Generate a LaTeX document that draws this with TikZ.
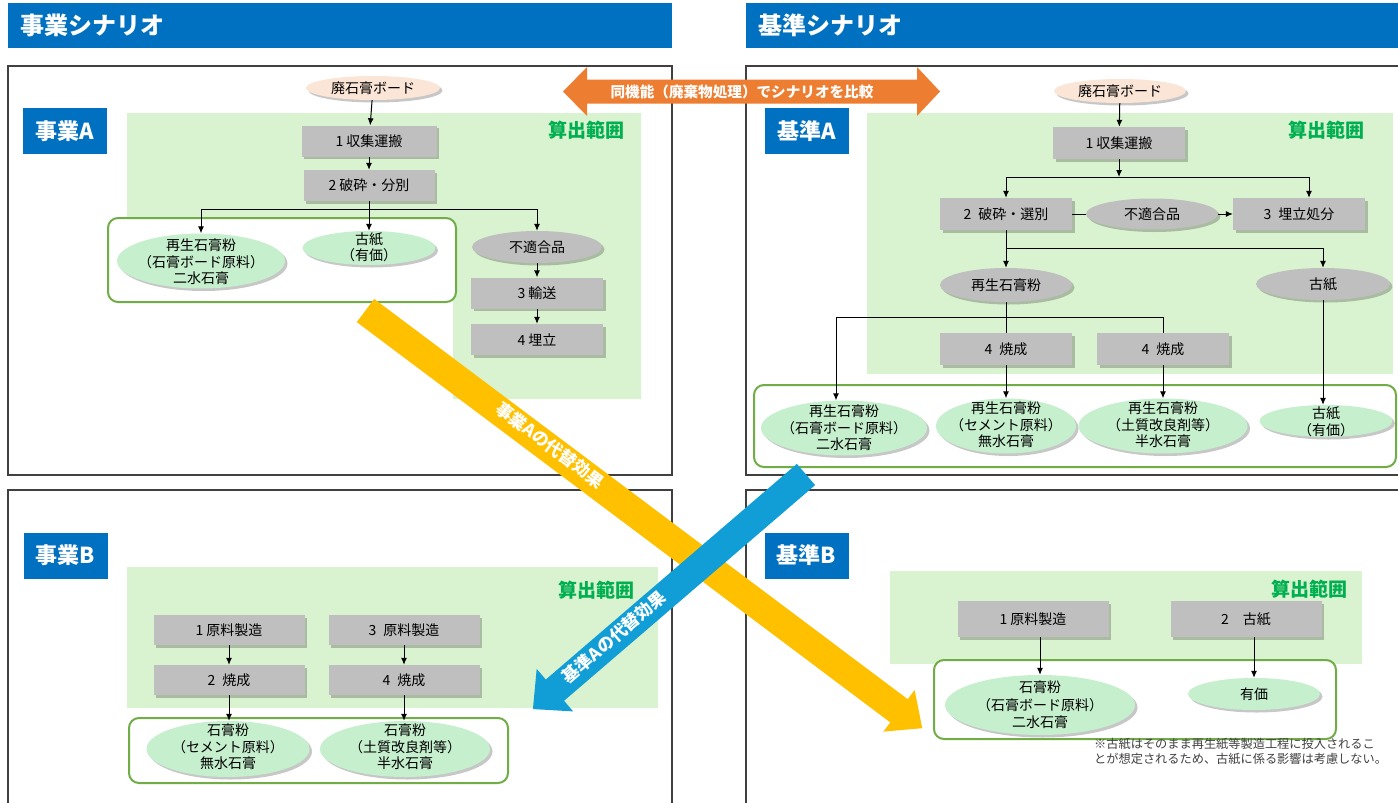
\documentclass[tikz,border=0pt]{standalone}
\usepackage{fontspec}
\setmainfont{Noto Sans CJK JP}
\usepackage{tikz}
\usetikzlibrary{arrows.meta,shapes.geometric,shadows}
\definecolor{head_blue}{RGB}{0,112,192}
\definecolor{area_green}{RGB}{217,242,208}
\definecolor{text_green}{RGB}{0,176,80}
\definecolor{box_gray}{RGB}{191,191,191}
\definecolor{edge_gray}{RGB}{64,64,64}
\definecolor{node_peach}{RGB}{251,229,214}
\definecolor{node_green}{RGB}{198,239,206}
\definecolor{edge_green}{RGB}{112,173,71}
\definecolor{arrow_orange}{RGB}{237,125,49}
\definecolor{arrow_yellow}{RGB}{255,192,0}
\definecolor{arrow_blue}{RGB}{17,158,214}

\begin{document}
\begin{tikzpicture}[x=1pt,y=-1pt,>={Latex[length=7pt,width=6pt]}]
    \tikzstyle{panel}=[draw=edge_gray, line width=1.2pt, fill=white]
    \tikzstyle{title}=[fill=head_blue, text=white, font=\fontsize{24}{26}\selectfont\bfseries, minimum height=45, inner xsep=12, align=left]
    \tikzstyle{tag}=[fill=head_blue, text=white, font=\fontsize{22}{24}\selectfont\bfseries, minimum width=84, minimum height=46, inner sep=0]
    \tikzstyle{area}=[fill=area_green]
    \tikzstyle{calc}=[text=text_green, font=\fontsize{19}{21}\selectfont\bfseries, inner sep=0]
    \tikzstyle{outbox}=[draw=edge_green, line width=2pt, rounded corners=10pt, fill=white]
    \tikzstyle{shade}=[drop shadow={shadow xshift=2.5pt, shadow yshift=-2.5pt, fill=black, opacity=0.22}]
    \tikzstyle{proc}=[shade, fill=box_gray, minimum width=132, minimum height=32, inner sep=0, font=\fontsize{14}{16}\selectfont]
    \tikzstyle{oval}=[shade, ellipse, inner sep=0, font=\fontsize{14}{16}\selectfont]
    \tikzstyle{waste}=[oval, fill=node_peach, minimum width=134, minimum height=24]
    \tikzstyle{prod}=[oval, fill=node_green]
    \tikzstyle{mid}=[oval, fill=box_gray, minimum width=132, minimum height=32]
    \tikzstyle{txt}=[align=center, inner sep=0, font=\fontsize{14}{16.5}\selectfont]
    \tikzstyle{link}=[->, line width=1pt]
    \tikzstyle{wire}=[line width=1pt]
    \tikzstyle{fattext}=[text=white, font=\fontsize{17}{19}\selectfont\bfseries, inner sep=0]

    \useasboundingbox (0,0) rectangle (1398,803);

    % panels and headers
    \draw[panel] (8,66) rectangle (672,475);
    \draw[panel] (746,66) rectangle (1402,475);
    \draw[panel] (8,490) rectangle (672,810);
    \draw[panel] (746,490) rectangle (1402,810);
    \node[title, text width=640, minimum width=664] (hl) at (340,25.5) {事業シナリオ};
    \node[title, text width=628, minimum width=652] (hr) at (1072,25.5) {基準シナリオ};

    % ---- 事業A
    \node[tag] (tA) at (65,131) {事業A};
    \fill[area] (127,113) -- (641,113) -- (641,399) -- (453,399) -- (453,219) -- (127,219) -- cycle;
    \node[calc] (sA) at (586,130) {算出範囲};
    \draw[outbox] (108,218) rectangle (456,302);
    \node[waste] (a0) at (373,88) {廃石膏ボード};
    \node[proc, minimum width=135, minimum height=31] (a1) at (369,141) {1 収集運搬};
    \node[proc, minimum width=131, minimum height=31] (a2) at (369,185.5) {2 破砕・分別};
    \node[prod, minimum width=168, minimum height=55] (a3) at (201,261) {};
    \node[txt] (a3t) at (201,262) {再生石膏粉\\（石膏ボード原料）\\二水石膏};
    \node[prod, minimum width=133, minimum height=34] (a4) at (369,248) {};
    \node[txt] (a4t) at (369,247.5) {古紙\\（有価）};
    \node[mid, minimum width=130] (a5) at (537,247) {不適合品};
    \node[proc, minimum height=31] (a6) at (537,293) {3 輸送};
    \node[proc, minimum height=31] (a7) at (537,339.5) {4 埋立};
    \coordinate (brA) at (369,209);
    \draw[link] (a0) -- (a1);
    \draw[link] (a1) -- (a2);
    \draw[link] (a2.south) -- (a4.north);
    \draw[link] (brA) -| (a3.north);
    \draw[link] (brA) -| (a5.north);
    \draw[link] (a5) -- (a6);
    \draw[link] (a6) -- (a7);

    % ---- 基準A
    \node[tag] (tB) at (806.5,131) {基準A};
    \fill[area] (867,113) rectangle (1393,374);
    \node[calc] (sB) at (1326,130) {算出範囲};
    \draw[outbox] (754,385) rectangle (1396,467);
    \node[waste, minimum width=132] (b0) at (1120,91) {廃石膏ボード};
    \node[proc] (b1) at (1119,143) {1 収集運搬};
    \node[proc] (b2) at (1006,214) {2\enspace 破砕・選別};
    \node[mid, minimum height=31] (b3) at (1152,214) {不適合品};
    \node[proc] (b4) at (1299,214) {3\enspace 埋立処分};
    \node[mid, minimum height=34] (b5) at (1006,285) {再生石膏粉};
    \node[mid, minimum width=134] (b6) at (1323,284) {古紙};
    \node[proc] (b7) at (1006,349) {4\enspace 焼成};
    \node[proc] (b8) at (1163,349) {4\enspace 焼成};
    \node[prod, minimum width=166, minimum height=55] (c1) at (844,428) {};
    \node[txt] (c1t) at (844,428) {再生石膏粉\\（石膏ボード原料）\\二水石膏};
    \node[prod, minimum width=140, minimum height=55] (c2) at (1006,426) {};
    \node[txt] (c2t) at (1006,425) {再生石膏粉\\（セメント原料）\\無水石膏};
    \node[prod, minimum width=169, minimum height=55] (c3) at (1163,426) {};
    \node[txt] (c3t) at (1163,425) {再生石膏粉\\（土質改良剤等）\\半水石膏};
    \node[prod, minimum width=133, minimum height=32] (c4) at (1326,421) {};
    \node[txt] (c4t) at (1326,422) {古紙\\（有価）};
    \coordinate (brB) at (1119,177);
    \coordinate (brC) at (1006,248);
    \coordinate (brD) at (1006,317);
    \draw[link] (b0) -- (b1);
    \draw[link] (b1.south) -- (brB);
    \draw[link] (brB) -| (b2.north);
    \draw[link] (brB) -| ([xshift=10pt]b4.north);
    \draw[wire] (b2) -- (b3);
    \draw[link] (b3) -- (b4);
    \draw[link] (b2.south) -- (b5.north);
    \draw[link] (brC) -| (b6.north);
    \draw[wire] (b5.south) -- (b7.north);
    \draw[link] (brD) -| ([xshift=-8pt]c1.north);
    \draw[wire] (brD) -| (b8.north);
    \draw[link] (b7.south) -- (c2.north);
    \draw[link] (b8.south) -- (c3.north);
    \draw[link] (b6.south) -- (b6.south |- c4.north);

    % ---- 事業B
    \node[tag] (tC) at (65.5,555.5) {事業B};
    \fill[area] (127,567) rectangle (658,708);
    \node[calc] (sC) at (596,590) {算出範囲};
    \draw[outbox] (129,718) rectangle (508,783);
    \node[proc, minimum width=151, minimum height=30] (d1) at (229,630) {1 原料製造};
    \node[proc, minimum width=151, minimum height=30] (d2) at (404,630) {3\enspace 原料製造};
    \node[proc, minimum width=151, minimum height=30] (d3) at (229,680) {2\enspace 焼成};
    \node[proc, minimum width=151, minimum height=30] (d4) at (404,680) {4\enspace 焼成};
    \node[prod, minimum width=163, minimum height=56] (e1) at (228,749) {};
    \node[txt] (e1t) at (228,747) {石膏粉\\（セメント原料）\\無水石膏};
    \node[prod, minimum width=170, minimum height=56] (e2) at (405,749) {};
    \node[txt] (e2t) at (405,747) {石膏粉\\（土質改良剤等）\\半水石膏};
    \draw[link] (d1) -- (d3);
    \draw[link] (d2) -- (d4);
    \draw[link] (d3.south) -- (d3.south |- e1.north);
    \draw[link] (d4.south) -- (d4.south |- e2.north);

    % ---- 基準B
    \node[tag] (tD) at (806.5,555.5) {基準B};
    \fill[area] (890,571) rectangle (1362,664);
    \node[calc] (sD) at (1309,589) {算出範囲};
    \draw[outbox] (934,660) rectangle (1336,739);
    \node[proc, minimum width=151, minimum height=36] (f1) at (1033,619) {1 原料製造};
    \node[proc, minimum width=151, minimum height=36] (f2) at (1246,619) {2　古紙};
    \node[prod, minimum width=190, minimum height=60] (g1) at (1040,705) {};
    \node[txt, font=\fontsize{14}{17.5}\selectfont] (g1t) at (1040,705) {石膏粉\\（石膏ボード原料）\\二水石膏};
    \node[prod, minimum width=132, minimum height=32] (g2) at (1254,694) {有価};
    \draw[link] (f1.south -| g1.north) -- (g1.north);
    \draw[link] (f2.south -| g2.north) -- (g2.north);
    \node[align=left, anchor=north west, inner sep=0, text=edge_gray, font=\fontsize{12.2}{15}\selectfont] (fn) at (1094,738) {※古紙はそのまま再生紙等製造工程に投入されるこ\\とが想定されるため、古紙に係る影響は考慮しない。};

    % ---- big arrows
    \fill[arrow_orange] (563,91.5) -- (587,67) -- (587,79.5) -- (917,79.5) -- (917,67) -- (940,91.5) -- (917,116) -- (917,103.5) -- (587,103.5) -- (587,116) -- cycle;
    \node[text=white, font=\fontsize{14.6}{16}\selectfont\bfseries, inner sep=0] (cmp) at (742,92) {同機能（廃棄物処理）でシナリオを比較};
    \begin{scope}[shift={(365.5,310.5)}, rotate=-36.88]
      \fill[arrow_yellow] (0,-14.5) -- (667,-14.5) -- (667,-26) -- (696,0) -- (667,26) -- (667,14.5) -- (0,14.5) -- cycle;
    \end{scope}
    \node[fattext, rotate=-36.88] (yl) at (550,445) {事業Aの代替効果};
    \begin{scope}[shift={(806,474.5)}, rotate=-139.34]
      \fill[arrow_blue] (0,-14) -- (331,-14) -- (331,-28) -- (360,0) -- (331,28) -- (331,14) -- (0,14) -- cycle;
    \end{scope}
    \node[fattext, rotate=40.66] (bl) at (614,637) {基準Aの代替効果};
\end{tikzpicture}
\end{document}
